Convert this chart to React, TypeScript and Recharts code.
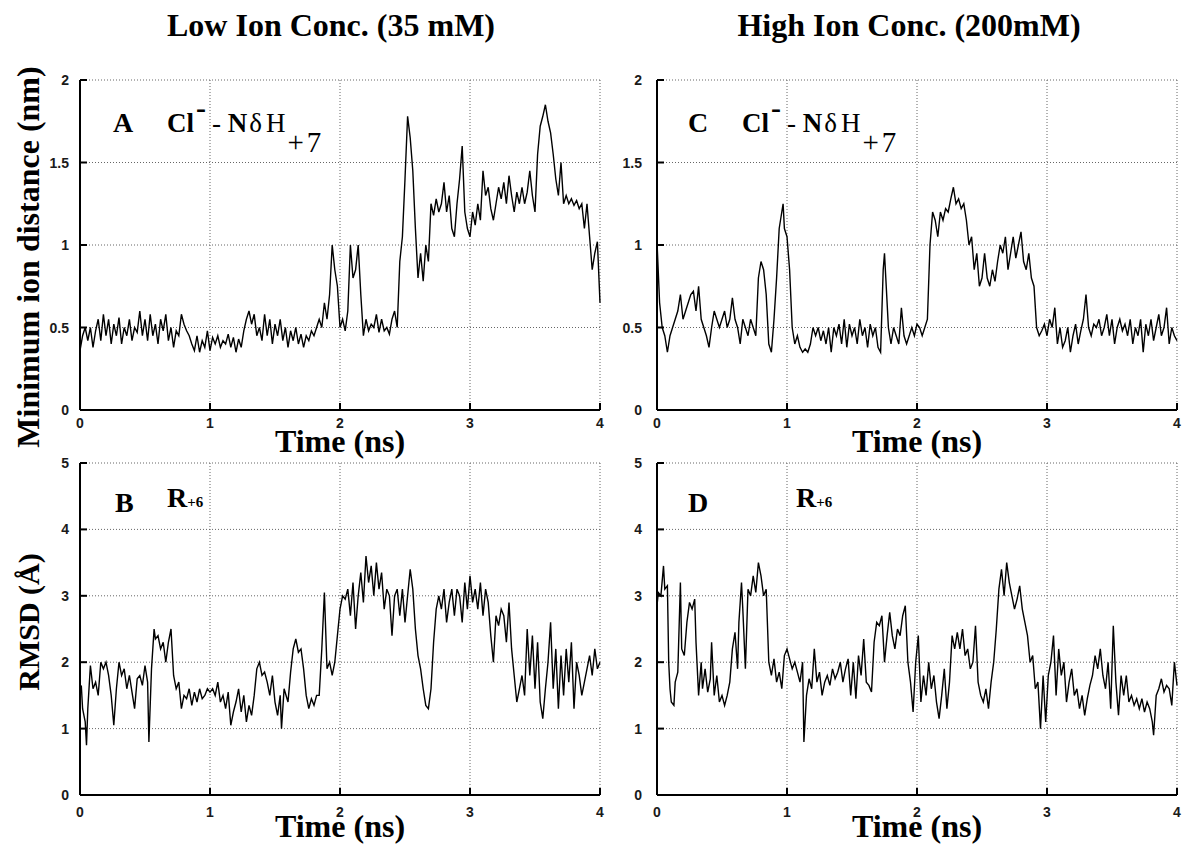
import React from 'react';
import { LineChart, Line, XAxis, YAxis, CartesianGrid } from 'recharts';

// time (ns) -> minimum Cl- to NdH+7 distance (nm), low ion conc.
const distLow: [number, number][] = [
  [0, 0.36], [0.02, 0.45], [0.04, 0.5], [0.06, 0.42], [0.08, 0.5], [0.1, 0.38], [0.12, 0.48], [0.14, 0.55],
  [0.16, 0.42], [0.18, 0.58], [0.2, 0.45], [0.22, 0.55], [0.24, 0.4], [0.26, 0.52], [0.28, 0.45], [0.3, 0.56],
  [0.32, 0.4], [0.34, 0.5], [0.36, 0.45], [0.38, 0.55], [0.4, 0.42], [0.42, 0.5], [0.44, 0.47], [0.46, 0.6],
  [0.48, 0.45], [0.5, 0.55], [0.52, 0.42], [0.54, 0.58], [0.56, 0.45], [0.58, 0.52], [0.6, 0.4], [0.62, 0.55],
  [0.64, 0.48], [0.66, 0.58], [0.68, 0.42], [0.7, 0.5], [0.72, 0.38], [0.74, 0.48], [0.76, 0.45], [0.78, 0.58],
  [0.8, 0.52], [0.82, 0.48], [0.84, 0.45], [0.86, 0.4], [0.88, 0.36], [0.9, 0.45], [0.92, 0.35], [0.94, 0.42],
  [0.96, 0.38], [0.98, 0.48], [1.0, 0.36], [1.02, 0.44], [1.04, 0.4], [1.06, 0.45], [1.08, 0.38], [1.1, 0.42],
  [1.12, 0.4], [1.14, 0.46], [1.16, 0.38], [1.18, 0.44], [1.2, 0.35], [1.22, 0.43], [1.24, 0.38], [1.26, 0.48],
  [1.28, 0.55], [1.3, 0.6], [1.32, 0.52], [1.34, 0.58], [1.36, 0.45], [1.38, 0.5], [1.4, 0.42], [1.42, 0.58],
  [1.44, 0.45], [1.46, 0.55], [1.48, 0.4], [1.5, 0.52], [1.52, 0.45], [1.54, 0.55], [1.56, 0.42], [1.58, 0.5],
  [1.6, 0.38], [1.62, 0.48], [1.64, 0.42], [1.66, 0.5], [1.68, 0.4], [1.7, 0.46], [1.72, 0.38], [1.74, 0.45],
  [1.76, 0.42], [1.78, 0.48], [1.8, 0.45], [1.82, 0.5], [1.84, 0.55], [1.86, 0.5], [1.88, 0.65], [1.9, 0.55],
  [1.92, 0.7], [1.94, 1.0], [1.96, 0.85], [1.98, 0.75], [2.0, 0.5], [2.02, 0.55], [2.04, 0.48], [2.06, 0.6],
  [2.08, 1.0], [2.1, 0.8], [2.12, 0.85], [2.14, 1.0], [2.16, 0.7], [2.18, 0.45], [2.2, 0.55], [2.22, 0.48],
  [2.24, 0.52], [2.26, 0.5], [2.28, 0.58], [2.3, 0.47], [2.32, 0.55], [2.34, 0.48], [2.36, 0.5], [2.38, 0.46],
  [2.4, 0.55], [2.42, 0.6], [2.44, 0.5], [2.46, 0.9], [2.48, 1.05], [2.5, 1.4], [2.52, 1.78], [2.54, 1.65],
  [2.56, 1.45], [2.58, 1.1], [2.6, 0.8], [2.62, 0.95], [2.64, 0.78], [2.66, 1.0], [2.68, 0.9], [2.7, 1.25],
  [2.72, 1.18], [2.74, 1.28], [2.76, 1.2], [2.78, 1.25], [2.8, 1.38], [2.82, 1.2], [2.84, 1.3], [2.86, 1.1],
  [2.88, 1.05], [2.9, 1.25], [2.92, 1.4], [2.94, 1.6], [2.96, 1.2], [2.98, 1.1], [3.0, 1.05], [3.02, 1.2],
  [3.04, 1.12], [3.06, 1.25], [3.08, 1.15], [3.1, 1.45], [3.12, 1.3], [3.14, 1.35], [3.16, 1.22], [3.18, 1.15],
  [3.2, 1.25], [3.22, 1.35], [3.24, 1.28], [3.26, 1.38], [3.28, 1.25], [3.3, 1.42], [3.32, 1.3], [3.34, 1.2],
  [3.36, 1.32], [3.38, 1.25], [3.4, 1.35], [3.42, 1.25], [3.44, 1.32], [3.46, 1.45], [3.48, 1.3], [3.5, 1.2],
  [3.52, 1.55], [3.54, 1.72], [3.56, 1.78], [3.58, 1.85], [3.6, 1.75], [3.62, 1.68], [3.64, 1.55], [3.66, 1.4],
  [3.68, 1.3], [3.7, 1.5], [3.72, 1.25], [3.74, 1.3], [3.76, 1.25], [3.78, 1.28], [3.8, 1.24], [3.82, 1.27],
  [3.84, 1.22], [3.86, 1.25], [3.88, 1.1], [3.9, 1.25], [3.92, 1.05], [3.94, 0.85], [3.96, 0.95], [3.98, 1.02],
  [4.0, 0.65],
];

// high ion conc.
const distHigh: [number, number][] = [
  [0, 1.02], [0.02, 0.65], [0.04, 0.5], [0.06, 0.45], [0.08, 0.35], [0.1, 0.45], [0.12, 0.5], [0.14, 0.55],
  [0.16, 0.6], [0.18, 0.7], [0.2, 0.55], [0.22, 0.6], [0.24, 0.65], [0.26, 0.7], [0.28, 0.72], [0.3, 0.6],
  [0.32, 0.75], [0.34, 0.55], [0.36, 0.5], [0.38, 0.45], [0.4, 0.38], [0.42, 0.5], [0.44, 0.6], [0.46, 0.55],
  [0.48, 0.5], [0.5, 0.55], [0.52, 0.6], [0.54, 0.5], [0.56, 0.55], [0.58, 0.68], [0.6, 0.55], [0.62, 0.5],
  [0.64, 0.4], [0.66, 0.55], [0.68, 0.5], [0.7, 0.45], [0.72, 0.55], [0.74, 0.5], [0.76, 0.45], [0.78, 0.8],
  [0.8, 0.9], [0.82, 0.85], [0.84, 0.7], [0.86, 0.4], [0.88, 0.35], [0.9, 0.55], [0.92, 0.8], [0.94, 1.1],
  [0.96, 1.2], [0.97, 1.25], [0.98, 1.1], [1.0, 1.05], [1.02, 0.85], [1.04, 0.5], [1.06, 0.4], [1.08, 0.45],
  [1.1, 0.38], [1.12, 0.35], [1.14, 0.37], [1.16, 0.35], [1.18, 0.4], [1.2, 0.5], [1.22, 0.45], [1.24, 0.5],
  [1.26, 0.42], [1.28, 0.48], [1.3, 0.4], [1.32, 0.5], [1.34, 0.35], [1.36, 0.5], [1.38, 0.45], [1.4, 0.52],
  [1.42, 0.4], [1.44, 0.55], [1.46, 0.38], [1.48, 0.52], [1.5, 0.45], [1.52, 0.5], [1.54, 0.4], [1.56, 0.55],
  [1.58, 0.45], [1.6, 0.5], [1.62, 0.38], [1.64, 0.52], [1.66, 0.45], [1.68, 0.5], [1.7, 0.38], [1.72, 0.35],
  [1.74, 0.85], [1.75, 0.95], [1.76, 0.8], [1.78, 0.5], [1.8, 0.4], [1.82, 0.5], [1.84, 0.45], [1.86, 0.4],
  [1.88, 0.62], [1.9, 0.45], [1.92, 0.4], [1.94, 0.45], [1.96, 0.5], [1.98, 0.45], [2.0, 0.52], [2.02, 0.5],
  [2.04, 0.45], [2.06, 0.5], [2.08, 0.55], [2.1, 1.0], [2.12, 1.2], [2.14, 1.15], [2.16, 1.05], [2.18, 1.2],
  [2.2, 1.15], [2.22, 1.22], [2.24, 1.2], [2.26, 1.28], [2.28, 1.35], [2.3, 1.25], [2.32, 1.28], [2.34, 1.22],
  [2.36, 1.25], [2.38, 1.15], [2.4, 1.0], [2.42, 1.05], [2.44, 0.85], [2.46, 0.95], [2.48, 0.75], [2.5, 0.8],
  [2.52, 0.95], [2.54, 0.8], [2.56, 0.75], [2.58, 0.85], [2.6, 0.78], [2.62, 0.9], [2.64, 1.0], [2.66, 0.95],
  [2.68, 1.05], [2.7, 0.85], [2.72, 0.95], [2.74, 1.05], [2.76, 0.92], [2.78, 1.0], [2.8, 1.08], [2.82, 0.9],
  [2.84, 0.85], [2.86, 0.95], [2.88, 0.8], [2.9, 0.75], [2.92, 0.5], [2.94, 0.45], [2.96, 0.48], [2.98, 0.52],
  [3.0, 0.45], [3.02, 0.55], [3.04, 0.5], [3.06, 0.62], [3.08, 0.4], [3.1, 0.5], [3.12, 0.38], [3.14, 0.42],
  [3.16, 0.5], [3.18, 0.35], [3.2, 0.45], [3.22, 0.52], [3.24, 0.4], [3.26, 0.48], [3.28, 0.55], [3.3, 0.7],
  [3.32, 0.5], [3.34, 0.45], [3.36, 0.52], [3.38, 0.5], [3.4, 0.55], [3.42, 0.45], [3.44, 0.5], [3.46, 0.58],
  [3.48, 0.45], [3.5, 0.55], [3.52, 0.4], [3.54, 0.5], [3.56, 0.55], [3.58, 0.48], [3.6, 0.52], [3.62, 0.45],
  [3.64, 0.55], [3.66, 0.4], [3.68, 0.5], [3.7, 0.45], [3.72, 0.55], [3.74, 0.35], [3.76, 0.52], [3.78, 0.45],
  [3.8, 0.55], [3.82, 0.42], [3.84, 0.5], [3.86, 0.58], [3.88, 0.45], [3.9, 0.5], [3.92, 0.62], [3.94, 0.4],
  [3.96, 0.5], [3.98, 0.45], [4.0, 0.42],
];

// time (ns) -> RMSD of R+6 (A), low ion conc.
const rmsdLow: [number, number][] = [
  [0, 1.6], [0.01, 1.65], [0.02, 1.3], [0.04, 1.1], [0.05, 0.75], [0.06, 1.3], [0.08, 1.95], [0.1, 1.6],
  [0.12, 1.7], [0.14, 1.5], [0.16, 2.0], [0.18, 1.9], [0.2, 2.0], [0.22, 1.8], [0.24, 1.5], [0.26, 1.05],
  [0.28, 1.6], [0.3, 2.0], [0.32, 1.8], [0.34, 1.9], [0.36, 1.6], [0.38, 1.8], [0.4, 1.55], [0.42, 1.3],
  [0.44, 1.75], [0.46, 1.8], [0.48, 1.65], [0.5, 1.95], [0.52, 1.7], [0.53, 0.8], [0.55, 1.9], [0.57, 2.5],
  [0.58, 2.35], [0.6, 2.4], [0.62, 2.2], [0.64, 2.3], [0.66, 2.0], [0.68, 2.3], [0.7, 2.5], [0.72, 1.8],
  [0.74, 1.6], [0.76, 1.7], [0.78, 1.3], [0.8, 1.5], [0.82, 1.45], [0.84, 1.6], [0.86, 1.35], [0.88, 1.55],
  [0.9, 1.4], [0.92, 1.6], [0.94, 1.45], [0.96, 1.5], [0.98, 1.6], [1.0, 1.55], [1.02, 1.6], [1.04, 1.5],
  [1.06, 1.7], [1.08, 1.4], [1.1, 1.5], [1.12, 1.3], [1.14, 1.55], [1.16, 1.05], [1.18, 1.25], [1.2, 1.4],
  [1.22, 1.6], [1.24, 1.25], [1.26, 1.5], [1.28, 1.1], [1.3, 1.35], [1.32, 1.2], [1.34, 1.5], [1.36, 1.9],
  [1.38, 2.0], [1.4, 1.8], [1.42, 1.85], [1.44, 1.7], [1.46, 1.5], [1.48, 1.8], [1.5, 1.4], [1.52, 1.2],
  [1.54, 1.5], [1.55, 1.0], [1.57, 1.6], [1.6, 1.4], [1.62, 1.85], [1.64, 2.2], [1.66, 2.35], [1.68, 2.15],
  [1.7, 2.2], [1.72, 1.9], [1.74, 1.5], [1.76, 1.3], [1.78, 1.45], [1.8, 1.35], [1.82, 1.5], [1.84, 1.5],
  [1.86, 2.2], [1.88, 3.05], [1.9, 1.9], [1.92, 2.0], [1.94, 1.8], [1.96, 2.0], [1.98, 2.4], [2.0, 2.8],
  [2.02, 3.0], [2.04, 2.95], [2.06, 3.1], [2.08, 2.7], [2.1, 3.2], [2.12, 2.5], [2.14, 3.0], [2.16, 3.35],
  [2.18, 2.9], [2.2, 3.6], [2.22, 3.2], [2.24, 3.45], [2.26, 3.0], [2.28, 3.5], [2.3, 3.1], [2.32, 3.35],
  [2.34, 2.8], [2.36, 3.1], [2.38, 3.0], [2.4, 2.4], [2.42, 3.0], [2.44, 3.1], [2.46, 2.7], [2.48, 3.1],
  [2.5, 2.6], [2.52, 3.0], [2.54, 3.4], [2.56, 3.1], [2.58, 2.5], [2.6, 2.1], [2.62, 1.9], [2.64, 1.6],
  [2.66, 1.35], [2.68, 1.3], [2.7, 1.6], [2.72, 2.3], [2.74, 2.8], [2.76, 3.0], [2.78, 2.8], [2.8, 3.1],
  [2.82, 2.6], [2.84, 2.9], [2.86, 3.1], [2.88, 2.7], [2.9, 3.1], [2.92, 3.0], [2.94, 2.6], [2.96, 3.2],
  [2.98, 2.8], [3.0, 3.3], [3.02, 2.9], [3.04, 3.1], [3.06, 2.8], [3.08, 3.2], [3.1, 2.7], [3.12, 3.1],
  [3.14, 2.9], [3.16, 2.4], [3.18, 2.0], [3.2, 2.7], [3.22, 2.55], [3.24, 2.8], [3.26, 2.7], [3.28, 2.3],
  [3.3, 2.9], [3.32, 2.2], [3.34, 1.8], [3.36, 1.4], [3.38, 1.6], [3.4, 1.8], [3.42, 1.5], [3.44, 2.5],
  [3.46, 1.8], [3.48, 2.4], [3.5, 1.6], [3.52, 2.3], [3.54, 1.4], [3.56, 1.15], [3.58, 1.6], [3.6, 2.0],
  [3.62, 2.6], [3.64, 1.6], [3.66, 2.2], [3.68, 1.3], [3.7, 2.1], [3.72, 1.5], [3.74, 2.2], [3.76, 1.7],
  [3.78, 2.3], [3.8, 1.3], [3.82, 2.0], [3.84, 1.8], [3.86, 1.5], [3.88, 1.7], [3.9, 1.9], [3.92, 2.1],
  [3.94, 1.8], [3.96, 2.2], [3.98, 1.9], [4.0, 2.0],
];

// high ion conc.
const rmsdHigh: [number, number][] = [
  [0, 2.85], [0.01, 3.05], [0.03, 3.0], [0.05, 3.45], [0.06, 3.1], [0.08, 3.15], [0.09, 2.0], [0.1, 1.6],
  [0.11, 1.4], [0.13, 1.35], [0.14, 1.7], [0.16, 1.85], [0.18, 3.2], [0.19, 2.2], [0.21, 2.1], [0.23, 2.6],
  [0.25, 2.9], [0.27, 2.8], [0.29, 2.95], [0.3, 2.3], [0.32, 1.5], [0.34, 2.0], [0.35, 1.6], [0.37, 1.9],
  [0.39, 1.55], [0.41, 1.75], [0.42, 2.3], [0.44, 1.5], [0.46, 1.8], [0.48, 1.4], [0.5, 1.5], [0.52, 1.35],
  [0.54, 1.5], [0.56, 1.7], [0.58, 2.2], [0.6, 2.45], [0.62, 1.9], [0.63, 2.6], [0.65, 3.2], [0.66, 2.8],
  [0.68, 1.9], [0.7, 3.1], [0.72, 3.0], [0.74, 3.3], [0.76, 3.05], [0.78, 3.5], [0.8, 3.3], [0.82, 3.0],
  [0.84, 3.1], [0.86, 2.0], [0.88, 1.8], [0.9, 2.05], [0.92, 1.7], [0.94, 1.85], [0.96, 1.6], [0.98, 2.1],
  [1.0, 2.2], [1.02, 2.05], [1.04, 1.9], [1.06, 2.0], [1.08, 1.85], [1.1, 1.7], [1.12, 2.0], [1.13, 0.8],
  [1.15, 1.5], [1.17, 1.75], [1.19, 1.6], [1.21, 2.2], [1.23, 1.7], [1.25, 1.85], [1.27, 1.5], [1.29, 1.7],
  [1.31, 1.8], [1.33, 1.65], [1.35, 1.9], [1.37, 1.75], [1.39, 1.85], [1.41, 2.0], [1.43, 1.7], [1.45, 1.9],
  [1.47, 2.05], [1.49, 1.5], [1.51, 2.0], [1.53, 1.45], [1.55, 2.1], [1.57, 1.8], [1.59, 2.35], [1.61, 1.7],
  [1.63, 1.65], [1.65, 1.55], [1.67, 2.3], [1.69, 2.6], [1.71, 2.55], [1.73, 2.7], [1.75, 2.0], [1.77, 2.4],
  [1.79, 2.75], [1.81, 2.4], [1.83, 2.2], [1.85, 2.5], [1.87, 2.4], [1.89, 2.7], [1.91, 2.85], [1.93, 2.0],
  [1.95, 1.7], [1.97, 1.25], [1.99, 2.0], [2.01, 2.4], [2.03, 1.4], [2.05, 1.8], [2.07, 1.5], [2.09, 2.0],
  [2.11, 1.6], [2.13, 1.8], [2.15, 1.4], [2.17, 1.15], [2.19, 1.5], [2.21, 1.9], [2.23, 1.3], [2.25, 1.7],
  [2.27, 2.4], [2.29, 2.2], [2.31, 2.45], [2.33, 2.2], [2.35, 2.5], [2.37, 2.1], [2.39, 2.2], [2.41, 1.9],
  [2.43, 2.0], [2.45, 2.55], [2.47, 1.7], [2.49, 1.5], [2.51, 1.4], [2.53, 1.6], [2.55, 1.3], [2.57, 1.7],
  [2.59, 2.0], [2.61, 2.5], [2.63, 3.1], [2.65, 3.4], [2.67, 3.0], [2.69, 3.5], [2.71, 3.2], [2.73, 3.0],
  [2.75, 2.8], [2.77, 2.95], [2.79, 3.15], [2.81, 2.8], [2.83, 2.6], [2.85, 2.4], [2.87, 2.0], [2.89, 2.1],
  [2.91, 1.6], [2.93, 1.7], [2.95, 1.0], [2.97, 1.8], [2.99, 1.1], [3.01, 1.8], [3.03, 2.0], [3.05, 2.4],
  [3.07, 1.5], [3.09, 2.2], [3.11, 1.8], [3.13, 2.0], [3.15, 1.4], [3.17, 1.7], [3.19, 1.9], [3.21, 1.5],
  [3.23, 1.6], [3.25, 1.3], [3.27, 1.5], [3.29, 1.2], [3.31, 1.45], [3.33, 1.65], [3.35, 1.8], [3.37, 2.1],
  [3.39, 1.9], [3.41, 2.2], [3.43, 1.8], [3.45, 1.6], [3.47, 2.0], [3.49, 1.3], [3.51, 2.55], [3.53, 1.7],
  [3.55, 1.2], [3.57, 1.8], [3.59, 1.5], [3.61, 1.8], [3.63, 1.4], [3.65, 1.5], [3.67, 1.35], [3.69, 1.45],
  [3.71, 1.3], [3.73, 1.45], [3.75, 1.25], [3.77, 1.4], [3.79, 1.3], [3.81, 1.1], [3.82, 0.9], [3.84, 1.5],
  [3.86, 1.6], [3.88, 1.75], [3.9, 1.55], [3.92, 1.65], [3.94, 1.6], [3.96, 1.35], [3.98, 2.0], [4.0, 1.65],
];

const timeTicks = [0, 1, 2, 3, 4];
const distTicks = [0, 0.5, 1, 1.5, 2];
const rmsdTicks = [0, 1, 2, 3, 4, 5];

const serif = '"Liberation Serif", "Times New Roman", serif';
const tickStyle = { fontFamily: '"Liberation Sans", Arial, sans-serif', fontWeight: 700, fontSize: 14, fill: '#1a1a1a' };
const border = { stroke: '#000', strokeWidth: 2 };

const toRows = (pairs: [number, number][]) => pairs.map(([t, v]) => ({ t, v }));

function Panel({ left, top, h, pairs, yTicks, yMax, yGap, xGap }: any) {
  const w = 520;
  return (
    <div style={{ position: 'absolute', left: left - 80, top: top - 20 }}>
      <LineChart width={w + 100} height={h + 60} data={toRows(pairs)} margin={{ top: 20, right: 20, bottom: 0, left: 0 }}>
        <CartesianGrid stroke="#666" strokeDasharray="1 2" strokeWidth={1} />
        <XAxis
          dataKey="t" type="number" domain={[0, 4]} ticks={timeTicks} height={40} interval={0}
          tickSize={0} tickMargin={0} tickLine={false} axisLine={border}
          tick={(p: any) => (
            <g>
              <line x1={p.x} x2={p.x} y1={p.y} y2={p.y - 7} {...border} />
              <text x={p.x} y={p.y + xGap} textAnchor="middle" style={tickStyle}>{p.payload.value}</text>
            </g>
          )}
        />
        <XAxis
          xAxisId="top" orientation="top" dataKey="t" type="number" domain={[0, 4]} ticks={timeTicks} height={0}
          interval={0} tickSize={0} tickMargin={0} tickLine={false} axisLine={border}
          tick={(p: any) => <line x1={p.x} x2={p.x} y1={p.y} y2={p.y + 7} {...border} />}
        />
        <YAxis
          type="number" domain={[0, yMax]} ticks={yTicks} width={80} interval={0}
          tickSize={0} tickMargin={0} tickLine={false} axisLine={border}
          tick={(p: any) => (
            <g>
              <line x1={p.x} x2={p.x + 7} y1={p.y} y2={p.y} {...border} />
              <text x={p.x - yGap} y={p.y + 5} textAnchor="end" style={tickStyle}>{p.payload.value}</text>
            </g>
          )}
        />
        <YAxis
          yAxisId="right" orientation="right" type="number" domain={[0, yMax]} ticks={yTicks} width={0}
          interval={0} tickSize={0} tickMargin={0} tickLine={false} axisLine={border}
          tick={(p: any) => <line x1={p.x} x2={p.x - 7} y1={p.y} y2={p.y} {...border} />}
        />
        <Line dataKey="v" type="linear" stroke="#000" strokeWidth={1.4} dot={false} isAnimationActive={false} />
      </LineChart>
    </div>
  );
}

const big = { fontFamily: serif, fontWeight: 700, fontSize: 32, fill: '#000' };

function ClLabel({ x, y }: { x: number; y: number }) {
  return (
    <text x={x} y={y} style={{ fontFamily: serif, fontSize: 27, fill: '#000' }}>
      <tspan fontWeight={700}>Cl</tspan>
      <tspan fontWeight={700} dy={-14} dx={2} fontSize={30}>-</tspan>
      <tspan dy={14} dx={6}>- </tspan>
      <tspan fontWeight={700}>N</tspan>
      <tspan dx={2}>δ</tspan>
      <tspan dx={4}>H</tspan>
      <tspan dy={20} dx={2} fontSize={29} letterSpacing={3}>+7</tspan>
    </text>
  );
}

function RLabel({ x, y }: { x: number; y: number }) {
  return (
    <text x={x} y={y} style={{ fontFamily: serif, fontWeight: 700, fill: '#000' }}>
      <tspan fontSize={28}>R</tspan>
      <tspan fontSize={15}>+6</tspan>
    </text>
  );
}

export default function App() {
  return (
    <div style={{ position: 'absolute', left: 0, top: 0, width: 1184, height: 845, background: '#fff' }}>
      <Panel left={80} top={80} h={330} pairs={distLow} yTicks={distTicks} yMax={2} yGap={11} xGap={18} />
      <Panel left={657} top={80} h={330} pairs={distHigh} yTicks={distTicks} yMax={2} yGap={15} xGap={18} />
      <Panel left={80} top={463} h={332} pairs={rmsdLow} yTicks={rmsdTicks} yMax={5} yGap={11} xGap={22} />
      <Panel left={657} top={463} h={332} pairs={rmsdHigh} yTicks={rmsdTicks} yMax={5} yGap={15} xGap={22} />
      <svg width={1184} height={845} style={{ position: 'absolute', left: 0, top: 0, pointerEvents: 'none' }}>
        <text x={331} y={36} textAnchor="middle" style={big}>Low Ion Conc. (35 mM)</text>
        <text x={909} y={36} textAnchor="middle" style={big}>High Ion Conc. (200mM)</text>
        <text transform="translate(39,257) rotate(-90)" textAnchor="middle" style={big}>Minimum ion distance (nm)</text>
        <text transform="translate(39,622) rotate(-90)" textAnchor="middle" style={{ ...big, fontSize: 30 }}>RMSD (Å)</text>
        <text x={340} y={452} textAnchor="middle" style={big}>Time (ns)</text>
        <text x={917} y={452} textAnchor="middle" style={big}>Time (ns)</text>
        <text x={340} y={837} textAnchor="middle" style={big}>Time (ns)</text>
        <text x={917} y={837} textAnchor="middle" style={big}>Time (ns)</text>
        <text x={113} y={132} style={{ ...big, fontSize: 28 }}>A</text>
        <text x={688} y={132} style={{ ...big, fontSize: 28 }}>C</text>
        <text x={115} y={512} style={{ ...big, fontSize: 28 }}>B</text>
        <text x={688} y={512} style={{ ...big, fontSize: 28 }}>D</text>
        <ClLabel x={167} y={132} />
        <ClLabel x={742} y={132} />
        <RLabel x={167} y={507} />
        <RLabel x={796} y={507} />
      </svg>
    </div>
  );
}
